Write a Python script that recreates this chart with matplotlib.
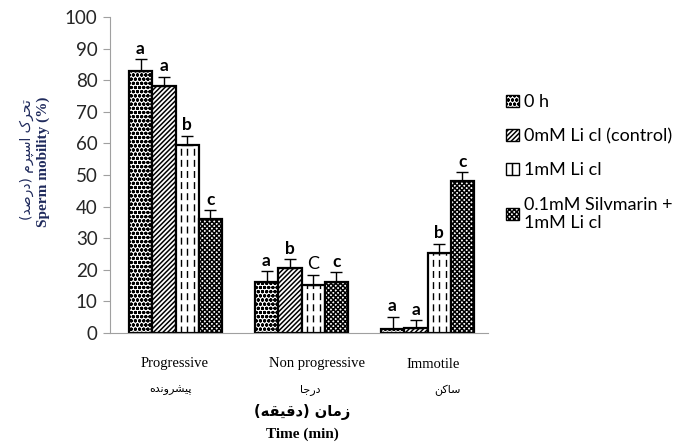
import numpy as np
import matplotlib
matplotlib.use("Agg")
import matplotlib.pyplot as plt
from matplotlib.patches import Patch

# Data: sperm mobility (%) by movement class and treatment
categories = ["Progressive", "Non progressive", "Immotile"]
categories_fa = ["پیشرونده", "درجا", "ساکن"]
series = ["0 h", "0mM Li cl (control)", "1mM Li cl", "0.1mM Silvmarin +\n1mM Li cl"]

mean_0h = [83.0, 16.0, 1.2]
mean_control = [78.3, 20.5, 1.5]
mean_li = [59.4, 15.2, 25.2]
mean_sil_li = [36.1, 16.0, 48.1]

err_0h = [3.7, 3.5, 4.0]
err_control = [2.8, 2.8, 2.6]
err_li = [3.0, 3.2, 3.0]
err_sil_li = [2.7, 3.2, 2.8]

letters_0h = ["a", "a", "a"]
letters_control = ["a", "b", "a"]
letters_li = ["b", "C", "b"]
letters_sil_li = ["c", "c", "c"]

means = [mean_0h, mean_control, mean_li, mean_sil_li]
errs = [err_0h, err_control, err_li, err_sil_li]
letters = [letters_0h, letters_control, letters_li, letters_sil_li]
hatches = ["oooo", "///////", None, "xxxxxxx"]

plt.rcParams["hatch.linewidth"] = 1.1

# minimal Persian shaping: (isolated, final, initial, medial); right-joining letters have 2 forms
FORMS = {
    "ا": "\uFE8D\uFE8E", "د": "\uFEA9\uFEAA", "ر": "\uFEAD\uFEAE", "ز": "\uFEAF\uFEB0",
    "و": "\uFEED\uFEEE",
    "ت": "\uFE95\uFE96\uFE97\uFE98", "ج": "\uFE9D\uFE9E\uFE9F\uFEA0",
    "ح": "\uFEA1\uFEA2\uFEA3\uFEA4", "س": "\uFEB1\uFEB2\uFEB3\uFEB4",
    "ش": "\uFEB5\uFEB6\uFEB7\uFEB8", "ص": "\uFEB9\uFEBA\uFEBB\uFEBC",
    "ق": "\uFED5\uFED6\uFED7\uFED8", "م": "\uFEE1\uFEE2\uFEE3\uFEE4",
    "ن": "\uFEE5\uFEE6\uFEE7\uFEE8", "ه": "\uFEE9\uFEEA\uFEEB\uFEEC",
    "پ": "\uFB56\uFB57\uFB58\uFB59", "ک": "\uFB8E\uFB8F\uFB90\uFB91",
    "ی": "\uFBFC\uFBFD\uFBFE\uFBFF",
}


def fa(text):
    out = []
    for i, c in enumerate(text):
        if c not in FORMS:
            out.append(c)
            continue
        prev = text[i - 1] if i > 0 else ""
        nxt = text[i + 1] if i + 1 < len(text) else ""
        join_prev = prev in FORMS and len(FORMS[prev]) == 4
        join_next = len(FORMS[c]) == 4 and nxt in FORMS
        f = FORMS[c]
        if join_prev and join_next:
            out.append(f[3])
        elif join_next:
            out.append(f[2])
        elif join_prev:
            out.append(f[1])
        else:
            out.append(f[0])
    swap = {"(": ")", ")": "("}
    return "".join(swap.get(c, c) for c in reversed(out))


W, H = 689, 446
fig = plt.figure(figsize=(W / 100, H / 100), dpi=100)
ax = fig.add_axes([110 / W, 1 - 333 / H, 378 / W, 316 / H])

x = np.arange(len(categories))
width = 0.185
for i in range(len(series)):
    pos = x + (i - 1.5) * width + 0.02
    bars = ax.bar(pos, means[i], width, color="white", edgecolor="black",
                  linewidth=1.6, hatch=hatches[i], zorder=2)
    if hatches[i] is None:
        # dashed vertical fill pattern, clipped to each bar
        for b in bars:
            xs = b.get_x() + b.get_width() * np.array([0.22, 0.5, 0.78])
            lc = ax.vlines(xs, 0, b.get_height(), colors="black", linewidth=1.0,
                           linestyles=(0, (5, 3)), zorder=2.5)
            lc.set_clip_path(b)
    ax.errorbar(pos, means[i], yerr=[np.zeros(3), errs[i]], fmt="none",
                ecolor="black", elinewidth=1, capsize=4, capthick=1, zorder=3)
    for j in range(len(categories)):
        lab = letters[i][j]
        ax.text(pos[j], means[i][j] + errs[i][j] + 0.8, lab, ha="center", va="bottom",
                fontsize=13 if lab.isupper() else 12.5,
                fontweight="normal" if lab.isupper() else "bold",
                family="Lato", color="black")

ax.set_xlim(-0.5, 2.5)
ax.set_ylim(0, 100)
ax.set_yticks(range(0, 101, 10))
ax.set_xticks([])
ax.tick_params(axis="y", direction="out", length=5, color="#a0a0a0",
               labelsize=13.5, labelcolor="#262626", pad=4)
for lbl in ax.get_yticklabels():
    lbl.set_family("Lato")
for s in ["top", "right"]:
    ax.spines[s].set_visible(False)
ax.spines["left"].set_color("#a0a0a0")
ax.spines["bottom"].set_color("#a0a0a0")


def px(xp, yp):
    return xp / W, 1 - yp / H


# category labels (English and Persian)
for name, xp in zip(categories, [175, 317, 433]):
    fig.text(*px(xp, 364), name, ha="center", va="center",
             family="Liberation Serif", fontsize=10.5)
for name, xp in zip(categories_fa, [170, 310, 447]):
    fig.text(*px(xp, 390), fa(name), ha="center", va="center",
             family="DejaVu Sans", fontsize=8)

fig.text(*px(302, 412), fa("زمان (دقیقه)"), ha="center", va="center",
         family="DejaVu Sans", fontweight="bold", fontsize=10.5)
fig.text(*px(302, 434), "Time (min)", ha="center", va="center",
         family="Liberation Serif", fontweight="bold", fontsize=11)

# y-axis titles
fig.text(*px(27, 160), fa("تحرک اسپرم (درصد)"), rotation=90, ha="center", va="center",
         family="DejaVu Sans", fontsize=10, color="#1f2a5c")
fig.text(*px(43, 162), "Sperm mobility (%)", rotation=90, ha="center", va="center",
         family="Liberation Serif", fontweight="bold", fontsize=11, color="#1f2a5c")

handles = [Patch(facecolor="white", edgecolor="black", hatch=h or "||", linewidth=1.0)
           for h in hatches]
fig.legend(handles, series, loc="upper left", bbox_to_anchor=(499 / W, 1 - 87 / H),
           frameon=False, prop={"family": "Lato", "size": 13},
           handlelength=0.7, handleheight=0.7, handletextpad=0.3,
           labelspacing=1.0, borderaxespad=0)

fig.savefig("out.png", dpi=100)
